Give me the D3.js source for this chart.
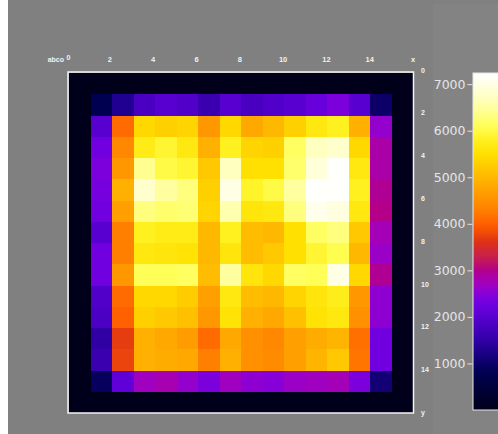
<!DOCTYPE html>
<html><head><meta charset="utf-8">
<script src="https://cdn.jsdelivr.net/npm/d3@7"></script>
<style>html,body{margin:0;padding:0;background:#fff;overflow:hidden}</style>
</head><body>
<script>
// ---- data ----
const xTicks = [0, 2, 4, 6, 8, 10, 12, 14];
const yTicks = [0, 2, 4, 6, 8, 10, 12, 14];
const colorTicks = [1000, 2000, 3000, 4000, 5000, 6000, 7000];
const row0  = [0,0,0,0,0,0,0,0,0,0,0,0,0,0,0,0];
const row1  = [0, 800,1300,1800,2000,1900,1600,2000,1800,1900,2000,2200,2400,2000,1000,0];
const row2  = [0,2000,4100,5400,5300,5350,4600,5400,4800,5000,5300,5650,5800,4900,2600,0];
const row3  = [0,2300,4400,5700,5900,5650,4900,5800,5350,5300,6150,6700,6800,5400,2850,0];
const row4  = [0,2400,4600,6400,6000,5900,5200,6700,5500,5500,6200,6900,7200,5650,2850,0];
const row5  = [0,2350,4900,6800,6500,6300,5300,7000,5850,6000,6500,7200,7200,5800,2950,0];
const row6  = [0,2300,4700,6300,6200,6250,5350,6600,5600,5650,6300,7050,6950,5650,3000,0];
const row7  = [0,2000,4300,5800,5700,5700,5000,5800,5050,5000,5500,6150,6300,5200,2750,0];
const row8  = [0,2300,4300,5650,5600,5550,5000,5600,5050,5200,5500,5900,6050,5000,2650,0];
const row9  = [0,2300,4600,6100,6100,6150,5050,6500,5600,5400,6150,6100,7000,5400,2950,0];
const row10 = [0,1900,4100,5400,5400,5250,4700,5650,5050,5000,5350,5600,5750,4600,2550,0];
const row11 = [0,1850,4000,5300,5200,5100,4600,5550,4900,4800,5100,5550,5650,4500,2550,0];
const row12 = [0,1500,3700,4900,4800,4650,4100,4800,4500,4400,4700,4850,4950,4150,2300,0];
const row13 = [0,1600,3750,4900,4850,4800,4300,4900,4500,4450,4700,4950,5200,4200,2300,0];
const row14 = [0, 900,2100,2700,2800,2600,2400,2700,2550,2500,2650,2700,2750,2400,1100,0];
const row15 = [0,0,0,0,0,0,0,0,0,0,0,0,0,0,0,0];
const grid = [row0,row1,row2,row3,row4,row5,row6,row7,row8,row9,row10,row11,row12,row13,row14,row15];
const colorMax = 7240;

// colour map stops
const cStops = [0,800,1000,1300,1600,1900,2100,2300,2500,2700,2900,3000,3300,3600,3800,4000,4300,4600,4900,5200,5500,5800,6100,6400,6700,7000,7240];
const cCols  = ["#00001a","#000050","#0c0068","#200090","#3a00b0","#5000c8","#6000d8","#7000e0","#8800d8","#a000c0","#ac00a0","#b40088","#c8204c","#dc3018","#f04a08","#ff6000","#ff8000","#ff9800","#ffb000","#ffc800","#ffe000","#fff020","#ffff58","#ffff90","#ffffc0","#ffffe6","#ffffff"];

const W = 498, H = 434;
const svg = d3.select("body").append("svg").attr("width", W).attr("height", H);
svg.append("rect").attr("x", 8).attr("y", 0).attr("width", W - 8).attr("height", H).attr("fill", "#808080");
svg.append("rect").attr("x", 433).attr("y", 4).attr("width", W - 433).attr("height", H - 4).attr("fill", "#838383");

const color = d3.scaleLinear().domain(cStops).range(cCols).clamp(true);
const n = grid.length;
const xb = d3.scaleBand().domain(d3.range(n)).range([69, 413]);
const yb = d3.scaleBand().domain(d3.range(n)).range([73, 413]);
const xl = d3.scaleLinear().domain([0, 16]).range([66.6, 413]);
const yl = d3.scaleLinear().domain([0, 16]).range([70, 412.5]);

const cells = [];
grid.forEach((r, i) => r.forEach((v, j) => cells.push({i, j, v})));
svg.append("g").attr("shape-rendering", "crispEdges").selectAll("rect").data(cells).join("rect")
  .attr("x", d => Math.round(xb(d.j))).attr("y", d => Math.round(yb(d.i)))
  .attr("width", d => Math.round(xb(d.j) + xb.bandwidth()) - Math.round(xb(d.j)))
  .attr("height", d => Math.round(yb(d.i) + yb.bandwidth()) - Math.round(yb(d.i)))
  .attr("fill", d => color(d.v));

svg.append("rect").attr("x", 68).attr("y", 72).attr("width", 345.5).attr("height", 341)
  .attr("fill", "none").attr("stroke", "#f4f4f4").attr("stroke-width", 1.5);

const lf = "Liberation Sans, Arial, sans-serif", lc = "#f2f2f2";
const gx = svg.append("g").attr("fill", lc).attr("font-family", lf).attr("font-weight", "bold");
gx.selectAll("text.t").data(xTicks.filter(t => t > 0)).join("text").attr("class", "t")
  .attr("x", d => xl(d)).attr("y", 62).attr("text-anchor", "middle")
  .attr("font-size", 7.5).text(d => d);
gx.append("text").attr("x", xl(16)).attr("y", 62).attr("text-anchor", "middle")
  .attr("font-size", 7.5).text("x");
gx.append("text").attr("x", 64).attr("y", 62).attr("text-anchor", "end")
  .attr("font-size", 7).text("abco");
gx.append("text").attr("x", xl(0)).attr("y", 60).attr("text-anchor", "start")
  .attr("font-size", 7).text(xTicks[0]);

const gy = svg.append("g").attr("fill", lc).attr("font-family", lf).attr("font-weight", "bold");
gy.selectAll("text.t").data(yTicks).join("text").attr("class", "t")
  .attr("x", 421).attr("y", d => yl(d) + 2.5).attr("text-anchor", "start")
  .attr("font-size", 7).text(d => d);
gy.append("text").attr("x", 421).attr("y", yl(16) + 2.5)
  .attr("font-size", 7).text("y");

// colour bar
const cb = d3.scaleLinear().domain([0, colorMax]).range([410, 73]);
const defs = svg.append("defs");
const grad = defs.append("linearGradient").attr("id", "cbg").attr("x1", 0).attr("y1", 1).attr("x2", 0).attr("y2", 0);
grad.selectAll("stop").data(cStops).join("stop")
  .attr("offset", d => d / colorMax).attr("stop-color", d => color(d));
svg.append("rect").attr("x", 473).attr("y", cb(colorMax)).attr("width", 40).attr("height", cb(0) - cb(colorMax))
  .attr("fill", "url(#cbg)").attr("stroke", "#e6e6e6").attr("stroke-width", 1);

const axis = d3.axisLeft(cb).tickValues(colorTicks).tickSize(5).tickPadding(2).tickFormat(d3.format("d"));
const ga = svg.append("g").attr("transform", "translate(472.5,0)").call(axis);
ga.select(".domain").remove();
ga.selectAll("line").attr("stroke", "#e6e6e6");
ga.selectAll("text").attr("fill", "#e6e6e6").attr("font-size", 12.5)
  .attr("font-family", "DejaVu Sans, sans-serif");
</script>
</body></html>
